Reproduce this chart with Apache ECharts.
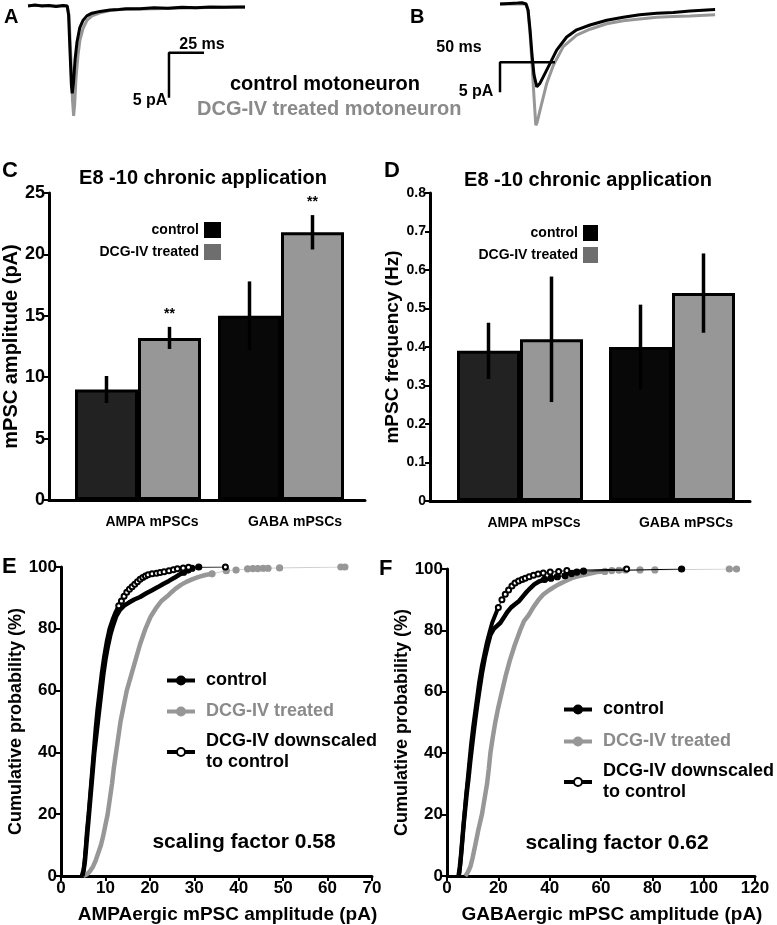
<!DOCTYPE html>
<html><head><meta charset="utf-8">
<script src="https://cdn.jsdelivr.net/npm/echarts@6/dist/echarts.min.js"></script>
<style>html,body{margin:0;padding:0;background:#fff}#c{width:777px;height:925px}</style>
</head><body><div id="c"></div>
<script>
// ================= DATA =================
// Panel A: AMPA mPSC traces  [time (ms), current (pA)]
const traceA_control = [[0,0],[5,0.1],[10,0],[15,0.05],[20,-0.05],[25,0.05],[28,0],[29,-1],[30,-5],[31,-8.8],[31.6,-9.7],[32.5,-8.5],[33.6,-6],[35,-4],[37,-2.4],[39.3,-1.6],[42,-1.1],[45.7,-0.8],[51.4,-0.6],[58.6,-0.45],[65,-0.4],[70,-0.3],[80,-0.3],[90,-0.2],[100,-0.25],[110,-0.15],[120,-0.2],[130,-0.1],[140,-0.15],[150,-0.1],[155,-0.1]];
const traceA_dcg = [[0,0.05],[10,0.05],[20,0],[28,0],[29.3,-1],[30.7,-6],[31.8,-10.5],[32.6,-12.2],[33.3,-11],[34.3,-8],[35.7,-5.5],[37.1,-3.8],[39.3,-2.5],[42.1,-1.6],[45.7,-1.1],[51.4,-0.75],[58.6,-0.5],[65,-0.4],[75,-0.35],[90,-0.3],[105,-0.25],[120,-0.2],[140,-0.15],[155,-0.15]];
// Panel B: GABA mPSC traces  [time (ms), current (pA)]
const traceB_control = [[0,0],[9,0.1],[16,0.15],[20,0.2],[23.6,0],[25.5,-1],[27.3,-4.3],[29.1,-8.5],[30.9,-11.8],[33.4,-13.8],[36.4,-13.2],[39.4,-12.1],[45.5,-9.9],[51.5,-7.7],[60.6,-5.5],[69.7,-4.3],[81.8,-3.5],[97,-2.7],[112,-2.2],[127,-1.8],[142.5,-1.55],[157.5,-1.4],[172.7,-1.15],[195.5,-0.9]];
const traceB_dcg = [[0,0],[24,0],[25.5,-1.2],[27.3,-5],[29.1,-10],[30.9,-15.5],[32.5,-20.2],[33.6,-19.8],[36.4,-17.7],[42.5,-13.2],[48.5,-10.2],[57.5,-7.1],[69.7,-5.2],[81.8,-4.2],[97,-3.3],[112,-2.8],[127,-2.5],[142.5,-2.2],[157.5,-2.1],[172.7,-2.0],[195.5,-1.8]];
// scale bars: [ms, pA]
const scaleBarA = [25, 5];
const scaleBarB = [50, 5];

// Panels C/D
const barCategories = ['AMPA mPSCs', 'GABA mPSCs'];
const ampControl = [9.0, 15.0];
const ampControlErr = [1.1, 2.8];
const ampDcg = [13.2, 21.8];
const ampDcgErr = [0.9, 1.4];
const ampDcgSig = ['**', '**'];
const freqControl = [0.39, 0.40];
const freqControlErr = [0.073, 0.11];
const freqDcg = [0.42, 0.54];
const freqDcgErr = [0.163, 0.103];

// Panel E: cumulative probability [amplitude (pA), %]
const cdfE_control = [[4.7,0],[5.1,2],[5.4,5],[5.7,10],[6.0,15],[6.3,20],[6.6,25],[6.9,30],[7.2,35],[7.5,40],[7.9,45],[8.3,50],[8.7,55],[9.1,60],[9.5,65],[10.0,70],[10.5,74],[11.1,78],[11.7,81],[12.4,84],[13.2,86],[14.2,87.5],[15.3,88.5],[16.5,89.5],[17.8,90.3],[19.2,91.5],[20.5,92.5],[21.8,93.5],[23,94.5],[24.3,95.5],[25.5,96.5],[26.6,97.5],[27.6,98.3],[28.6,99],[29.5,99.6],[31,100]];
const cdfE_dcg = [[5.0,0],[5.8,0.5],[6.5,1.5],[7.2,3],[7.8,5],[8.4,7.5],[9.0,10],[9.5,13],[10.0,16.5],[10.5,20],[11.0,25],[11.5,30],[11.9,35],[12.4,40],[12.9,45],[13.4,50],[14.1,55],[14.8,60],[15.8,65],[16.8,70],[17.8,75],[19.0,80],[20.2,84],[21.3,86.5],[22.6,89],[23.9,90.5],[25.0,92],[25.8,93],[27.0,94.2],[28.2,95.2],[29.5,96],[31.0,96.8],[32.5,97.4],[34.0,97.8],[37.2,98.8],[39.4,99],[42.0,99.4],[43.2,99.5],[44.3,99.5],[45.5,99.6],[46.6,99.6],[49.2,99.7],[63.0,100],[63.9,100]];
const cdfE_down = [[4.9,0],[5.2,3],[5.5,8],[5.8,14],[6.2,20],[6.6,27],[7.0,34],[7.4,41],[7.8,48],[8.2,54],[8.7,60],[9.2,66],[9.7,71],[10.3,76],[10.9,80],[11.6,83],[12.3,85.5],[13.0,87.5],[13.6,89],[14.2,90.5],[14.8,91.8],[15.4,92.8],[16.0,93.6],[16.6,94.4],[17.2,95.2],[17.8,96],[18.4,96.6],[19.0,97.1],[19.6,97.5],[20.5,97.8],[21.5,98],[22.3,98.2],[23.2,98.5],[24.3,98.8],[25.3,99.1],[26.2,99.4],[27.5,99.7],[28.7,99.9],[37,100]];
// Panel F
const cdfF_control = [[4.5,0],[5.0,3],[5.5,7],[6.0,12],[6.5,17],[7.1,22],[7.7,27],[8.4,32],[9.0,37],[9.7,42],[10.4,47],[11.0,51],[11.8,56],[12.7,61],[13.6,66],[14.7,71],[15.8,75],[16.9,78.5],[18.2,80.5],[19.5,81.5],[20.8,82.5],[22.0,84],[23.5,86],[25.0,87.5],[26.5,88.5],[28.0,89.5],[29.5,91],[31.0,92.5],[32.5,93.8],[34.0,95],[36.0,96],[38.0,96.6],[40.5,97],[43.0,97.5],[46.0,97.8],[48.5,98.5],[50.6,99],[53.2,99.3],[91.4,100]];
const cdfF_dcg = [[7.1,0],[8.0,1],[9.1,3],[10.0,6],[11.0,10],[12.2,15],[13.6,20],[14.6,25],[15.6,30],[16.3,35],[16.9,40],[17.8,45],[18.8,50],[20.0,55],[21.4,60],[22.8,65],[24.4,70],[26.3,75],[28.5,80],[30.0,83],[31.8,85],[33.6,87.5],[35.7,90],[37.5,91.7],[39.6,93],[41.5,94],[43.5,95],[46.0,96],[48.6,97],[51.0,97.6],[53.2,98],[55.8,98.5],[58.4,99],[61.5,99.2],[64.2,99.5],[67.0,99.6],[69.5,99.7],[75.2,99.7],[81.0,99.7],[110,100],[112.8,100]];
const cdfF_down = [[4.7,0],[5.2,4],[5.7,9],[6.2,14],[6.8,20],[7.4,26],[8.0,31],[8.7,37],[9.4,43],[10.1,48],[10.9,53],[11.7,58],[12.5,63],[13.5,68],[14.5,72],[15.5,76],[16.6,79.5],[17.6,82.5],[18.8,85],[20.0,87.5],[21.4,90],[22.7,91.8],[24.0,93.2],[25.3,94.5],[26.5,95.4],[27.9,96.1],[29.3,96.6],[30.5,97],[32.0,97.5],[33.7,98],[35.5,98.4],[37.5,98.7],[40.2,99],[43.5,99.2],[46.7,99.5],[70,100]];

// ================= STYLE / LAYOUT =================
const FONT = '"Liberation Sans", Arial, Helvetica, sans-serif';
const BLACK = '#000', GRAY = '#979797', GRAY_TXT = '#8a8a8a', LEG_GRAY = '#6e6e6e';
const CTRL_COLORS = ['#222222', '#080808'];
const BAR_W = 63;
const scaleAnchorA = [100.7, -5.2];   // ms, pA (corner of scale bar)
const scaleAnchorB = [0, -9.7];
const tailFrom = {Ec: 27.6, Ed: 34.0, Ew: 13.0, Fc: 38.0, Fd: 61.5, Fw: 20.0};

const ZW = n => '\u200b'.repeat(n);
const strip = s => s.replace(/\u200b/g, '');

function hidden(gi, min, max) { return {type:'value', gridIndex:gi, min, max, show:false}; }
function frameX(gi) {
  return {type:'value', gridIndex:gi, min:0, max:1, axisLine:{show:true, lineStyle:{color:BLACK, width:3}},
    axisTick:{show:false}, axisLabel:{show:false}, splitLine:{show:false}};
}
function valY(gi, min, max, interval, name, fs, nameFs, gap, fmt) {
  return {type:'value', gridIndex:gi, min, max, interval,
    name, nameLocation:'middle', nameRotate:90, nameGap:gap,
    nameTextStyle:{fontFamily:FONT, fontWeight:'bold', fontSize:nameFs, color:BLACK},
    axisLine:{show:true, lineStyle:{color:BLACK, width:3}},
    axisTick:{show:true, length:5, lineStyle:{color:BLACK, width:2}},
    axisLabel:{fontFamily:FONT, fontWeight:'bold', fontSize:fs, color:BLACK, margin:4, formatter:fmt},
    splitLine:{show:false}};
}
function valX(gi, min, max, interval, name, fs, nameFs) {
  return {type:'value', gridIndex:gi, min, max, interval,
    name, nameLocation:'middle', nameGap:29,
    nameTextStyle:{fontFamily:FONT, fontWeight:'bold', fontSize:nameFs, color:BLACK, padding:[0,0,0,22]},
    axisLine:{show:true, lineStyle:{color:BLACK, width:3}},
    axisTick:{show:true, length:5, lineStyle:{color:BLACK, width:2}},
    axisLabel:{fontFamily:FONT, fontWeight:'bold', fontSize:fs, color:BLACK, margin:4},
    splitLine:{show:false}};
}
function catX(gi) {
  return {type:'category', gridIndex:gi, data:barCategories,
    axisLine:{show:false}, axisTick:{show:false},
    axisLabel:{fontFamily:FONT, fontWeight:'bold', fontSize:14, color:BLACK, margin:15, padding:[0,0,0,28]}};
}
function traceSeries(name, gi, data, color, z) {
  return {type:'line', name, xAxisIndex:gi, yAxisIndex:gi, data, showSymbol:false, symbol:'none',
    lineStyle:{color, width:3}, z, silent:true};
}
function scaleSeries(gi, anchor, bar) {
  const [t0, p0] = anchor;
  return {type:'line', xAxisIndex:gi, yAxisIndex:gi, showSymbol:false, symbol:'none', clip:false,
    data:[[t0 + bar[0], p0],[t0, p0],[t0, p0 - bar[1]]], lineStyle:{color:BLACK, width:2.5}, z:5, silent:true};
}
function barSeries(name, gi, vals, colors) {
  return {type:'bar', name, xAxisIndex:gi, yAxisIndex:gi, barWidth:BAR_W, barGap:'0%',
    data: vals.map((v,i)=>({value:v, itemStyle:{color:colors[i]}})),
    itemStyle:{borderColor:BLACK, borderWidth:3}, z:2, silent:true};
}
function errSeries(gi, vals, errs, side, stars) {
  return {type:'custom', xAxisIndex:gi, yAxisIndex:gi, z:6, silent:true,
    data: vals.map((v,i)=>[i, v, errs[i]]),
    renderItem:(params, api) => {
      const i = api.value(0), v = api.value(1), e = api.value(2);
      const x = api.coord([i, v])[0] + side * BAR_W / 2;
      const top = api.coord([i, v + e])[1], bot = api.coord([i, v - e])[1];
      const ch = [{type:'line', shape:{x1:x, y1:top, x2:x, y2:bot}, style:{stroke:BLACK, lineWidth:3.5}}];
      if (stars) ch.push({type:'text', x, y: top - 6, style:{text: stars[i], font:'bold 14px ' + FONT, fill:BLACK,
        textAlign:'center', align:'center', textVerticalAlign:'bottom', verticalAlign:'bottom'}});
      return {type:'group', children: ch};
    }};
}
function cdfPair(name, gi, data, thr, color, lineCol, symbol, symSize, bodyW, z) {
  const body = data.filter(p => p[0] <= thr);
  const tail = data.filter(p => p[0] >= thr);
  return [
    {type:'line', name: name + '_body', xAxisIndex:gi, yAxisIndex:gi, data: body, showSymbol:false, symbol:'none',
      lineStyle:{color, width:bodyW}, z, silent:true},
    {type:'line', name, xAxisIndex:gi, yAxisIndex:gi, data: tail, symbol, symbolSize:symSize, showSymbol:true,
      itemStyle:{color, borderColor:color, borderWidth:1.2}, lineStyle:{color:lineCol, width:1}, z: z + 1, silent:true}
  ];
}
function lineLegend(name, left, top, txtColor, lineColor, symColor) {
  return {left, top, orient:'vertical', itemWidth:28, itemHeight:10, padding:0, selectedMode:false,
    formatter: strip,
    textStyle:{fontFamily:FONT, fontWeight:'bold', fontSize:18, color:txtColor, lineHeight:21, padding:[0,0,0,6]},
    data:[{name, lineStyle:{color:lineColor, width:4}, itemStyle:{color:symColor}}]};
}
function txt(text, x, y, size, opts) {
  opts = opts || {};
  return {type:'text', x, y, silent:true, style:{text, font:'bold ' + size + 'px ' + FONT, fill: opts.color || BLACK,
    textAlign: opts.align || 'left', align: opts.align || 'left', textVerticalAlign:'middle', verticalAlign:'middle'}};
}

const names = {
  cC: 'control', dC: 'DCG-IV treated',
  cD: 'control' + ZW(1), dD: 'DCG-IV treated' + ZW(1),
  cE: 'control' + ZW(2), dE: 'DCG-IV treated' + ZW(2), wE: 'DCG-IV downscaled\nto control',
  cF: 'control' + ZW(3), dF: 'DCG-IV treated' + ZW(3), wF: 'DCG-IV downscaled\nto control' + ZW(1)
};

const option = {
  animation: false,
  textStyle: {fontFamily: FONT},
  grid: [
    {left:28, top:3.3, width:217, height:113.4},
    {left:439.5, top:1, width:275.6, height:126},
    {left:45, top:193, width:320, height:307},
    {left:66.5, top:193, width:286, height:307},
    {left:430, top:193, width:320, height:308},
    {left:444, top:193, width:304, height:308},
    {left:61, top:567, width:311, height:309},
    {left:447, top:569, width:308, height:308}
  ],
  xAxis: [
    hidden(0, 0, 155), hidden(1, -55, 195.5),
    frameX(2), catX(3), frameX(4), catX(5),
    valX(6, 0, 70, 10, 'AMPAergic mPSC amplitude (pA)', 17, 19),
    valX(7, 0, 120, 20, 'GABAergic mPSC amplitude (pA)', 17, 19)
  ],
  yAxis: [
    hidden(0, -12.3, 0.3), hidden(1, -20.5, 0.5),
    valY(2, 0, 25, 5, 'mPSC amplitude (pA)', 18, 20, 21),
    hidden(3, 0, 25),
    valY(4, 0, 0.8, 0.1, 'mPSC frequency (Hz)', 14, 19, 23, v => v === 0 ? '0' : v.toFixed(1)),
    hidden(5, 0, 0.8),
    valY(6, 0, 100, 20, 'Cumulative probability (%)', 17, 18, 25),
    valY(7, 0, 100, 20, 'Cumulative probability (%)', 17, 18, 30)
  ],
  legend: [
    {orient:'vertical', align:'right', right:777-221, top:222, itemWidth:17, itemHeight:16, itemGap:6, padding:0,
      selectedMode:false, formatter: strip, textStyle:{fontFamily:FONT, fontWeight:'bold', fontSize:14, color:BLACK},
      data:[{name:names.cC, icon:'rect', itemStyle:{color:BLACK, borderWidth:0}}, {name:names.dC, icon:'rect', itemStyle:{color:LEG_GRAY, borderWidth:0}}]},
    {orient:'vertical', align:'right', right:777-598, top:225, itemWidth:15, itemHeight:16, itemGap:6, padding:0,
      selectedMode:false, formatter: strip, textStyle:{fontFamily:FONT, fontWeight:'bold', fontSize:14, color:BLACK},
      data:[{name:names.cD, icon:'rect', itemStyle:{color:BLACK, borderWidth:0}}, {name:names.dD, icon:'rect', itemStyle:{color:LEG_GRAY, borderWidth:0}}]},
    lineLegend(names.cE, 165, 670, BLACK, BLACK, BLACK),
    lineLegend(names.dE, 165, 701, GRAY_TXT, GRAY, GRAY),
    lineLegend(names.wE, 165, 731, BLACK, BLACK, BLACK),
    lineLegend(names.cF, 562, 699, BLACK, BLACK, BLACK),
    lineLegend(names.dF, 562, 731, GRAY_TXT, GRAY, GRAY),
    lineLegend(names.wF, 562, 761, BLACK, BLACK, BLACK)
  ],
  series: [
    traceSeries('A dcg', 0, traceA_dcg, GRAY, 2),
    traceSeries('A control', 0, traceA_control, BLACK, 3),
    scaleSeries(0, scaleAnchorA, scaleBarA),
    traceSeries('B dcg', 1, traceB_dcg, GRAY, 2),
    traceSeries('B control', 1, traceB_control, BLACK, 3),
    scaleSeries(1, scaleAnchorB, scaleBarB),
    barSeries(names.cC, 3, ampControl, CTRL_COLORS),
    barSeries(names.dC, 3, ampDcg, [GRAY, GRAY]),
    errSeries(3, ampControl, ampControlErr, -1, null),
    errSeries(3, ampDcg, ampDcgErr, 1, ampDcgSig),
    barSeries(names.cD, 5, freqControl, CTRL_COLORS),
    barSeries(names.dD, 5, freqDcg, [GRAY, GRAY]),
    errSeries(5, freqControl, freqControlErr, -1, null),
    errSeries(5, freqDcg, freqDcgErr, 1, null),
    ...cdfPair(names.dE, 6, cdfE_dcg, tailFrom.Ed, GRAY, '#cfcfcf', 'circle', 6, 4.5, 3),
    ...cdfPair(names.cE, 6, cdfE_control, tailFrom.Ec, BLACK, BLACK, 'circle', 6, 4.5, 5),
    ...cdfPair(names.wE, 6, cdfE_down, tailFrom.Ew, BLACK, BLACK, 'emptyCircle', 5, 4, 7),
    ...cdfPair(names.dF, 7, cdfF_dcg, tailFrom.Fd, GRAY, '#cfcfcf', 'circle', 6, 4.5, 3),
    ...cdfPair(names.cF, 7, cdfF_control, tailFrom.Fc, BLACK, BLACK, 'circle', 6, 4.5, 5),
    ...cdfPair(names.wF, 7, cdfF_down, tailFrom.Fw, BLACK, BLACK, 'emptyCircle', 5, 4, 7)
  ],
  graphic: [
    txt('A', 4, 17, 20), txt('B', 410, 17, 20),
    txt('25 ms', 202, 45, 16, {align:'center'}),
    txt('5 pA', 150, 101, 16, {align:'center'}),
    txt('50 ms', 459, 48, 16, {align:'center'}),
    txt('5 pA', 476, 92, 16, {align:'center'}),
    txt('control motoneuron', 230, 84, 20),
    txt('DCG-IV treated motoneuron', 197, 109, 20, {color:GRAY_TXT}),
    txt('C', 2, 171, 22), txt('D', 384, 171, 22),
    txt('E8 -10 chronic application', 203, 178, 20, {align:'center'}),
    txt('E8 -10 chronic application', 588, 180, 20, {align:'center'}),
    txt('E', 2, 567, 22), txt('F', 379, 569, 22),
    txt('scaling factor 0.58', 244, 842, 21, {align:'center'}),
    txt('scaling factor 0.62', 617, 843, 21, {align:'center'})
  ]
};
const chart = echarts.init(document.getElementById('c'), null, {renderer:'canvas'});
chart.setOption(option);
</script></body></html>
